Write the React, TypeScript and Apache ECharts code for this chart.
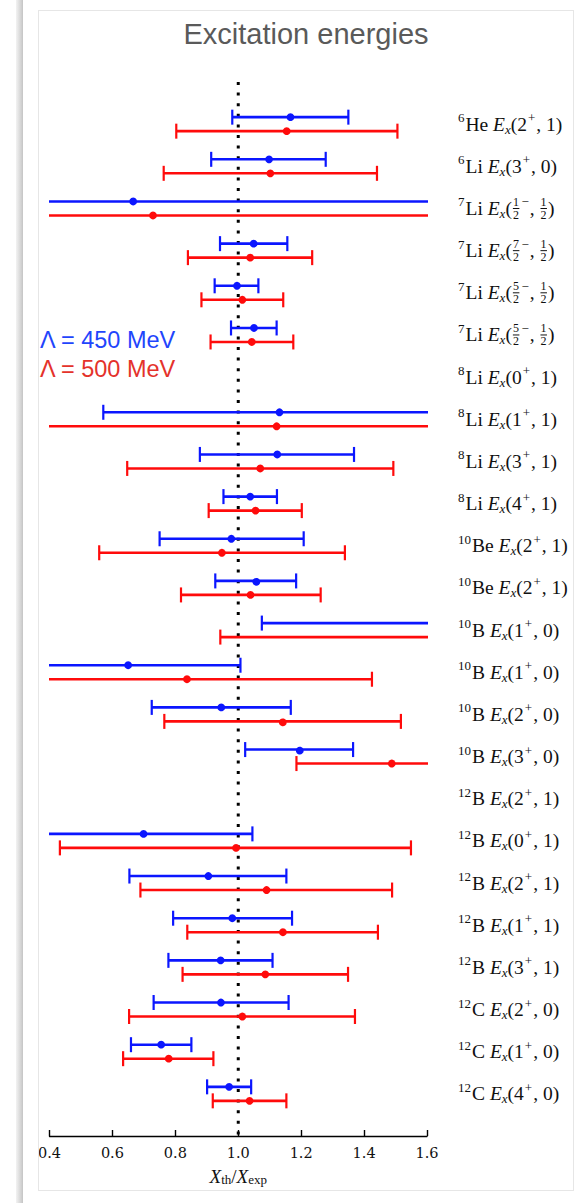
import React, { useEffect, useRef } from "react";
import * as echarts from "echarts";

// Row descriptors: nucleus and state (J^pi, T) for each excitation energy
const massNumbers = ["6", "6", "7", "7", "7", "7", "8", "8", "8", "8", "10", "10", "10", "10", "10", "10", "12", "12", "12", "12", "12", "12", "12", "12"];
const elements = ["He", "Li", "Li", "Li", "Li", "Li", "Li", "Li", "Li", "Li", "Be", "Be", "B", "B", "B", "B", "B", "B", "B", "B", "B", "C", "C", "C"];
const spins = ["2", "3", "1/2", "7/2", "5/2", "5/2", "0", "1", "3", "4", "2", "2", "1", "1", "2", "3", "2", "0", "2", "1", "3", "2", "1", "4"];
const parities = ["+", "+", "−", "−", "−", "−", "+", "+", "+", "+", "+", "+", "+", "+", "+", "+", "+", "+", "+", "+", "+", "+", "+", "+"];
const isospins = ["1", "0", "1/2", "1/2", "1/2", "1/2", "1", "1", "1", "1", "1", "1", "0", "0", "0", "0", "1", "1", "1", "1", "1", "0", "0", "0"];

// Ratios X_th / X_exp with lower / upper uncertainty bounds (null: no result)
const blueLow = [0.981, 0.914, 0.25, 0.942, 0.925, 0.977, null, 0.571, 0.878, 0.953, 0.75, 0.927, 1.075, 0.3, 0.725, 1.022, null, 0.35, 0.654, 0.793, 0.778, 0.731, 0.659, 0.901];
const blueCenter = [1.166, 1.098, 0.666, 1.049, 0.996, 1.05, null, 1.131, 1.124, 1.038, 0.978, 1.057, 1.85, 0.65, 0.946, 1.195, null, 0.699, 0.905, 0.981, 0.944, 0.945, 0.755, 0.971];
const blueHigh = [1.35, 1.278, 1.85, 1.156, 1.064, 1.122, null, 1.75, 1.368, 1.123, 1.208, 1.184, 2.6, 1.007, 1.167, 1.365, null, 1.045, 1.153, 1.171, 1.109, 1.16, 0.851, 1.041];

const redLow = [0.803, 0.763, 0.2, 0.84, 0.883, 0.912, null, 0.35, 0.647, 0.906, 0.558, 0.818, 0.943, 0.25, 0.765, 1.185, null, 0.433, 0.689, 0.838, 0.823, 0.653, 0.634, 0.919];
const redCenter = [1.154, 1.102, 0.729, 1.038, 1.013, 1.043, null, 1.122, 1.07, 1.055, 0.948, 1.039, 1.7, 0.837, 1.141, 1.488, null, 0.993, 1.09, 1.142, 1.086, 1.013, 0.779, 1.036];
const redHigh = [1.506, 1.441, 1.9, 1.235, 1.143, 1.175, null, 1.8, 1.493, 1.202, 1.339, 1.262, 2.5, 1.425, 1.517, 1.79, null, 1.549, 1.489, 1.444, 1.349, 1.371, 0.921, 1.153];

const xTicks = [0.4, 0.6, 0.8, 1.0, 1.2, 1.4, 1.6];
const referenceRatio = 1.0;

const SERIF = "'Liberation Serif', 'DejaVu Serif', serif";
const SANS = "'Liberation Sans', Arial, sans-serif";
const BLUE = "#0b16ff";
const RED = "#ff0b0b";
const INK = "#111";

const frac = (s: string) => {
  if (s.includes("/")) {
    const [n, d] = s.split("/");
    return `{fs| }{fn|${n}}{fd|${d}}{fb| }{fs| }`;
  }
  return `{rm|${s}}`;
};

const rowLabel = (i: number) =>
  `{sup|${massNumbers[i]}}{rm|${elements[i]} }{it|E}{sub|x}{rm|(}${frac(spins[i])}{sup|${parities[i]}}{rm|, }${frac(isospins[i])}{rm|)}`;

const LH = 24;
const FS = 19.5;
const labelRich = {
  rm: { fontFamily: SERIF, fontSize: FS, color: INK, lineHeight: LH },
  it: { fontFamily: SERIF, fontSize: FS, fontStyle: "italic", color: INK, lineHeight: LH },
  sup: { fontFamily: SERIF, fontSize: 13, color: INK, lineHeight: LH, padding: [0, 1, 13, 1] },
  sub: { fontFamily: SERIF, fontSize: 13, fontStyle: "italic", color: INK, lineHeight: LH, padding: [10, 0, 0, 0] },
  fn: { fontFamily: SERIF, fontSize: 12, color: INK, width: 0, lineHeight: LH, padding: [0, 0, 13, 0] },
  fd: { fontFamily: SERIF, fontSize: 12, color: INK, width: 0, lineHeight: LH, padding: [13, 0, 0, 0] },
  fb: { fontSize: 4, width: 6.5, height: 1, backgroundColor: INK },
  fs: { fontSize: 4, width: 1 },
};

function errorBarSeries(name: string, color: string, low: (number | null)[], center: (number | null)[], high: (number | null)[], offset: number) {
  const data: number[][] = [];
  low.forEach((l, i) => {
    if (l != null && center[i] != null && high[i] != null) data.push([l, center[i] as number, high[i] as number, i]);
  });
  return {
    type: "custom",
    name,
    clip: true,
    z: 3,
    silent: true,
    data,
    encode: { x: [0, 1, 2], y: 3 },
    renderItem: (params: any, api: any) => {
      const row = api.value(3);
      const pL = api.coord([api.value(0), row]);
      const pC = api.coord([api.value(1), row]);
      const pH = api.coord([api.value(2), row]);
      const y = pC[1] + offset;
      const cap = 7.5;
      return {
        type: "group",
        children: [
          { type: "line", shape: { x1: pL[0], y1: y, x2: pH[0], y2: y }, style: { stroke: color, lineWidth: 2.6 } },
          { type: "line", shape: { x1: pL[0], y1: y - cap, x2: pL[0], y2: y + cap }, style: { stroke: color, lineWidth: 2.2 } },
          { type: "line", shape: { x1: pH[0], y1: y - cap, x2: pH[0], y2: y + cap }, style: { stroke: color, lineWidth: 2.2 } },
          { type: "circle", shape: { cx: pC[0], cy: y, r: 3.9 }, style: { fill: color } },
        ],
      };
    },
  };
}

function Chart() {
  const ref = useRef<HTMLDivElement>(null);
  useEffect(() => {
    if (!ref.current) return;
    const chart = echarts.init(ref.current, null, { renderer: "svg" });
    chart.setOption({
      animation: false,
      backgroundColor: "#ffffff",
      title: {
        text: "Excitation energies",
        left: "center",
        top: 3,
        textStyle: { fontFamily: SANS, fontSize: 29, fontWeight: "normal", color: "#5a5a5a" },
      },
      grid: { left: 10.5, right: 146, top: 71, bottom: 54, containLabel: false, outerBoundsMode: "none" },
      xAxis: {
        type: "value",
        min: xTicks[0],
        max: xTicks[xTicks.length - 1],
        interval: 0.2,
        axisLine: { onZero: false, lineStyle: { color: "#000", width: 1.4 } },
        axisTick: { inside: true, length: 6, lineStyle: { color: "#000", width: 1.4 } },
        splitLine: { show: false },
        axisLabel: {
          margin: 9,
          fontFamily: "'DejaVu Serif', serif",
          fontSize: 14.5,
          color: INK,
          formatter: (v: number) => v.toFixed(1),
        },
        name: "{it|X}{sub|th}{rm|/}{it|X}{sub|exp}",
        nameLocation: "middle",
        nameGap: 30,
        nameTextStyle: {
          rich: {
            rm: { fontFamily: SERIF, fontSize: 19, color: INK, lineHeight: 20 },
            it: { fontFamily: SERIF, fontSize: 19, fontStyle: "italic", color: INK, lineHeight: 20 },
            sub: { fontFamily: SERIF, fontSize: 13, color: INK, lineHeight: 20, padding: [7, 0, 0, 0] },
          },
        },
      },
      yAxis: {
        type: "value",
        inverse: true,
        min: -1,
        max: 24,
        interval: 1,
        position: "right",
        axisLine: { show: false, onZero: false },
        axisTick: { show: false },
        splitLine: { show: false },
        axisLabel: {
          align: "left",
          margin: 30,
          formatter: (v: number) => {
            const i = Math.round(v);
            return i >= 0 && i < massNumbers.length ? rowLabel(i) : "";
          },
          rich: labelRich,
        },
      },
      graphic: [
        { type: "text", left: 1, top: 317, style: { text: "Λ = 450 MeV", fill: "#1f45fc", fontFamily: SANS, fontSize: 23.5 } },
        { type: "text", left: 1, top: 346, style: { text: "Λ = 500 MeV", fill: "#e4322b", fontFamily: SANS, fontSize: 23.5 } },
      ],
      series: [
        {
          type: "line",
          name: "ratio = 1",
          data: [[referenceRatio, -1], [referenceRatio, 24]],
          symbol: "none",
          silent: true,
          z: 2,
          lineStyle: { color: "#000", width: 3, type: [3, 7.6], cap: "butt" },
        },
        errorBarSeries("Λ = 450 MeV", BLUE, blueLow, blueCenter, blueHigh, -7),
        errorBarSeries("Λ = 500 MeV", RED, redLow, redCenter, redHigh, 7),
      ],
    });
    return () => chart.dispose();
  }, []);
  return <div ref={ref} style={{ width: 534, height: 1179 }} />;
}

export default function App() {
  return (
    <div style={{ position: "absolute", left: 0, top: 0, width: 584, height: 1203, background: "#fff", overflow: "hidden" }}>
      <div
        style={{
          position: "absolute",
          left: 16,
          top: 0,
          width: 7,
          height: 1203,
          background: "linear-gradient(to right, #f3f3f3, #cfcfcf 80%, #c4c4c4)",
        }}
      />
      <div
        style={{
          position: "absolute",
          left: 38,
          top: 10,
          width: 536,
          height: 1181,
          boxSizing: "border-box",
          border: "1px solid #e6e6e6",
          overflow: "hidden",
          background: "#fff",
        }}
      >
        <Chart />
      </div>
    </div>
  );
}
